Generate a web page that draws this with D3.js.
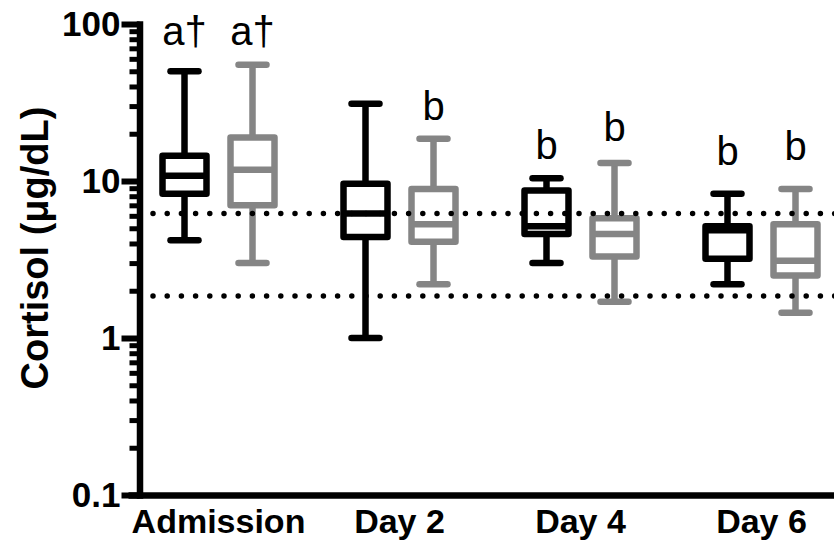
<html>
<head>
<meta charset="utf-8">
<script src="https://d3js.org/d3.v7.min.js"></script>
<style>
body { margin: 0; background: #fff; }
text { font-family: Arial, "Liberation Sans", sans-serif; }
</style>
</head>
<body>
<svg id="chart" width="834" height="543"></svg>
<script>

// categories and series
var days = ["Admission", "Day 2", "Day 4", "Day 6"];
var series = ["group1", "group2"];

// [min, q1, median, q3, max] per day
var group1 = [[4.2, 8.3, 10.8, 14.5, 50], [1.0, 4.4, 6.2, 9.6, 31], [3.0, 4.6, 5.15, 8.7, 10.4], [2.2, 3.2, 4.85, 5.15, 8.3]];
var group2 = [[3.0, 7.0, 11.8, 18.9, 55], [2.2, 4.1, 5.3, 8.9, 18.6], [1.7, 3.3, 4.6, 5.8, 13.0], [1.45, 2.5, 3.1, 5.3, 8.9]];

// significance letters and the level they sit at
var letters1 = ["a\u2020", "", "b", "b"];
var letters2 = ["a\u2020", "b", "b", "b"];
var letterAt1 = [74, null, 13.8, 12.7];
var letterAt2 = [74, 24.6, 18, 13.6];

// reference range
var refLines = [6.2, 1.85];

var yMajor = [0.1, 1, 10, 100];
var yMinor = [0.2, 0.3, 0.4, 0.5, 0.6, 0.7, 0.8, 0.9, 2, 3, 4, 5, 6, 7, 8, 9, 20, 30, 40, 50, 60, 70, 80, 90];

var svg = d3.select("#chart");
var colors = {group1: "#000", group2: "#858585"};

var x = d3.scaleBand().domain(days).range([128, 852]);
var xs = d3.scalePoint().domain(series).range([-34, 34]);
var y = d3.scaleLog().domain([0.1, 100]).range([495, 24]);

var axisX = 139.5;

// boxes
var rows = [];
days.forEach(function(d, i) {
	rows.push({day: d, s: "group1", v: group1[i], letter: letters1[i], at: letterAt1[i]});
	rows.push({day: d, s: "group2", v: group2[i], letter: letters2[i], at: letterAt2[i]});
});

var bw = 44, cw = 14, sw = 6.5;

var g = svg.selectAll("g.box").data(rows).enter().append("g")
	.attr("class", "box")
	.attr("transform", d => `translate(${x(d.day) + x.bandwidth() / 2 + xs(d.s)},0)`)
	.attr("stroke", d => colors[d.s])
	.attr("stroke-width", sw)
	.attr("fill", "none");

g.append("line").attr("y1", d => y(d.v[0])).attr("y2", d => y(d.v[4]));
g.append("line").attr("x1", -cw).attr("x2", cw).attr("y1", d => y(d.v[0])).attr("y2", d => y(d.v[0]))
	.attr("stroke-linecap", "round");
g.append("line").attr("x1", -cw).attr("x2", cw).attr("y1", d => y(d.v[4])).attr("y2", d => y(d.v[4]))
	.attr("stroke-linecap", "round");
g.append("rect")
	.attr("x", -bw / 2).attr("width", bw)
	.attr("y", d => y(d.v[3]))
	.attr("height", d => y(d.v[1]) - y(d.v[3]))
	.attr("fill", "#fff")
	.attr("stroke-linejoin", "round");
g.append("line").attr("x1", -bw / 2).attr("x2", bw / 2).attr("y1", d => y(d.v[2])).attr("y2", d => y(d.v[2]));

g.filter(d => d.letter).append("text")
	.attr("stroke", "none")
	.attr("fill", "#000")
	.attr("text-anchor", "middle")
	.attr("y", d => y(d.at))
	.style("font-size", "40px")
	.text(d => d.letter);

// dotted reference lines
svg.selectAll("line.ref").data(refLines).enter().append("line")
	.attr("class", "ref")
	.attr("x1", 153).attr("x2", 840)
	.attr("y1", d => y(d)).attr("y2", d => y(d))
	.attr("stroke", "#000")
	.attr("stroke-width", 5.5)
	.attr("stroke-linecap", "round")
	.attr("stroke-dasharray", "0,14.2");

// x axis
var xAxis = svg.append("g")
	.attr("transform", "translate(0,495)")
	.call(d3.axisBottom(x).tickSize(0).tickPadding(14));
xAxis.select(".domain").attr("stroke-width", 6.5);
xAxis.selectAll("text")
	.style("font-size", "34px").style("font-weight", "bold")
	.attr("fill", "#000");

// y axis, minor then major
var yMin = svg.append("g")
	.attr("transform", `translate(${axisX},0)`)
	.call(d3.axisLeft(y).tickValues(yMinor).tickSize(10).tickFormat(""));
yMin.select(".domain").remove();
yMin.selectAll("line").attr("stroke-width", 5);

var yAxis = svg.append("g")
	.attr("transform", `translate(${axisX},0)`)
	.call(d3.axisLeft(y).tickValues(yMajor).tickSize(18).tickSizeOuter(0).tickPadding(1)
		.tickFormat(d => d < 1 ? "0.1" : d3.format("d")(d)));
yAxis.select(".domain").attr("stroke-width", 6.5).attr("stroke-linecap", "square");
yAxis.selectAll("line").attr("stroke-width", 6);
yAxis.selectAll("text")
	.style("font-size", "35px").style("font-weight", "bold")
	.attr("fill", "#000");

svg.append("text")
	.attr("transform", "translate(48,248) rotate(-90)")
	.attr("text-anchor", "middle")
	.style("font-size", "38px").style("font-weight", "bold")
	.text("Cortisol (\u03bcg/dL)");

</script>
</body>
</html>
